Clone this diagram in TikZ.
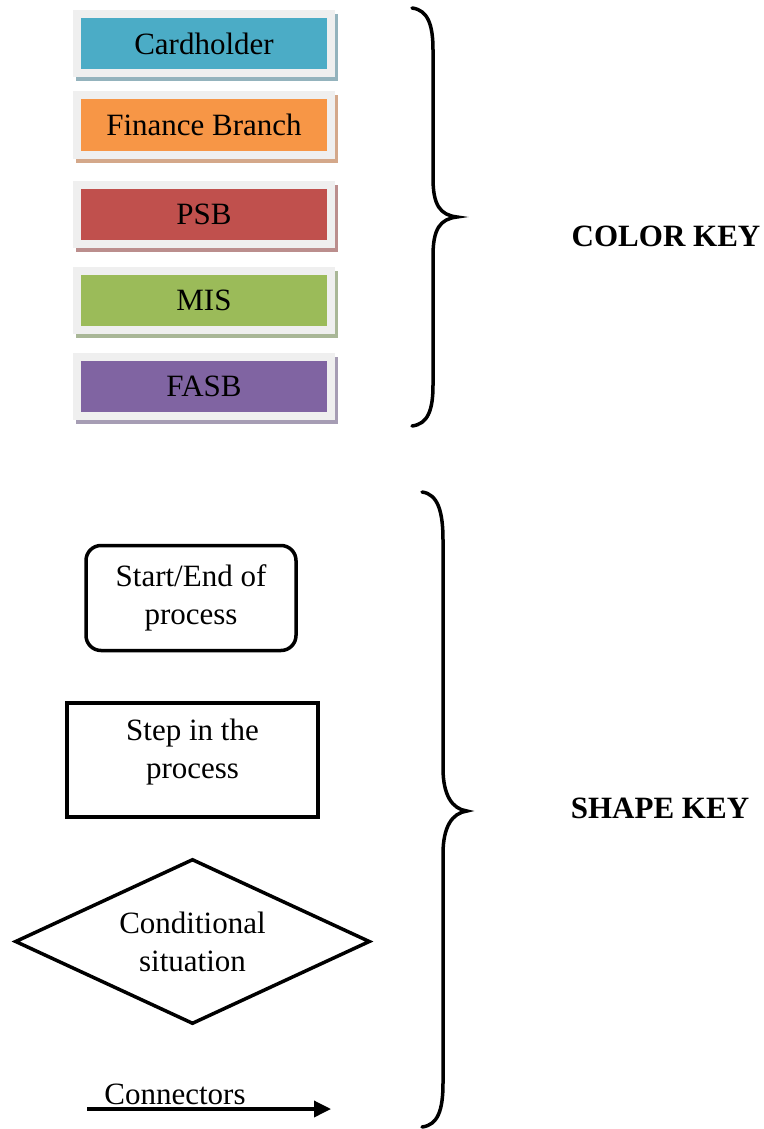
\documentclass[tikz,border=0pt]{standalone}
\usepackage{fontspec}
\setmainfont{Liberation Serif}
\usetikzlibrary{shapes.geometric,arrows.meta}
\definecolor{frameg}{HTML}{EFEFEF}
\definecolor{caqua}{HTML}{4BACC6}
\definecolor{saqua}{HTML}{94B3BD}
\definecolor{corange}{HTML}{F79646}
\definecolor{sorange}{HTML}{D4A88A}
\definecolor{cred}{HTML}{C0504D}
\definecolor{sred}{HTML}{BB8E8D}
\definecolor{cgreen}{HTML}{9BBB59}
\definecolor{sgreen}{HTML}{A9B797}
\definecolor{cpurple}{HTML}{8064A2}
\definecolor{spurple}{HTML}{A69DB4}
\begin{document}
\begin{tikzpicture}[x=1pt,y=-1pt,
  font=\fontsize{31}{38}\selectfont,
  keybox/.style n args={2}{rectangle, inner sep=0pt,
    minimum width=254pt, minimum height=59pt,
    fill=#1, draw=frameg, line width=8pt,
    preaction={fill=#2, draw=#2, line width=8pt,
      transform canvas={xshift=3pt,yshift=-4pt}}},
  shapeline/.style={draw=black, line width=3.5pt},
  bracepath/.style={draw=black, line width=3.5pt, line cap=round},
  keytitle/.style={font=\fontsize{31}{38}\selectfont\bfseries}
]
\useasboundingbox (0,0) rectangle (763,1129);

% colour key
\node[keybox={caqua}{saqua}]     (card) at (204,44)  {Cardholder};
\node[keybox={corange}{sorange}] (fin)  at (204,125) {Finance Branch};
\node[keybox={cred}{sred}]       (psb)  at (204,214.5) {PSB};
\node[keybox={cgreen}{sgreen}]   (mis)  at (204,300.5) {MIS};
\node[keybox={cpurple}{spurple}] (fasb) at (204,386) {FASB};

\draw[bracepath] (412,8) .. controls (428,10) and (433,25) .. (433,50)
  -- (433,178) .. controls (433,205) and (440,215) .. (457,217)
  .. controls (440,219) and (433,229) .. (433,256)
  -- (433,385) .. controls (433,410) and (428,424) .. (412,426);

\node[keytitle] (colorkey) at (666,236) {COLOR KEY};

% shape key
\node[shapeline, rectangle, rounded corners=15pt, minimum width=210pt,
  minimum height=105pt, align=center] (start) at (191,598)
  {Start/End of\\process};
\node[shapeline, rectangle, minimum width=251pt, minimum height=114pt,
  align=center, text depth=22pt] (stepbox) at (192.5,760) {Step in the\\process};
\node[shapeline, diamond, minimum width=355pt, minimum height=165pt,
  inner sep=0pt, aspect=2.15, align=center] (cond) at (192.5,941.5)
  {Conditional\\situation};

\coordinate (cstart) at (87,1109);
\coordinate (cend) at (331,1109);
\draw[line width=3.5pt, -{Triangle[length=17pt,width=16pt]}] (cstart) -- (cend);
\node[anchor=base, inner sep=0pt] (conn) at (175,1104) {Connectors};

\draw[bracepath] (422,492) .. controls (438,494) and (443,512) .. (443,540)
  -- (443,768) .. controls (443,795) and (452,809) .. (467,811)
  .. controls (452,813) and (443,827) .. (443,854)
  -- (443,1083) .. controls (443,1110) and (438,1125) .. (422,1127);

\node[keytitle] (shapekey) at (660,808) {SHAPE KEY};
\end{tikzpicture}
\end{document}
